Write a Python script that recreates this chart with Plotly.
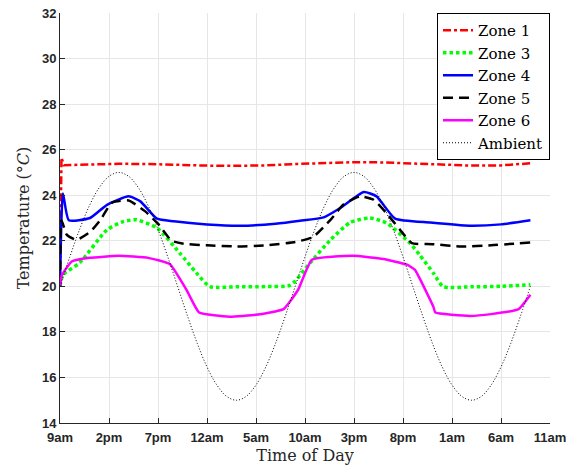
import plotly.graph_objects as go

# hours since 9am
tick_vals = [0, 5, 10, 15, 20, 25, 30, 35, 40, 45, 50]
tick_text = ["9am", "2pm", "7pm", "12am", "5am", "10am", "3pm", "8pm", "1am", "6am", "11am"]

z1_t = [0, 0.15, 0.4, 3, 6, 9, 12, 15, 18, 21, 24, 27, 30, 33, 36, 39, 42, 45, 48]
z1_v = [20, 25.65, 25.32, 25.36, 25.38, 25.37, 25.33, 25.3, 25.29, 25.31, 25.37, 25.42, 25.45, 25.44, 25.4, 25.33, 25.3, 25.31, 25.4]

z3_t = [0, 0.3, 2, 4.8, 6.5, 7.8, 9.9, 12.2, 13.9, 15.3, 18, 21, 23.5, 25.5, 27.6, 29.6, 31.6, 33.3, 35.7, 36.7, 38.1, 39.1, 42, 45, 48]
z3_v = [20, 20.5, 21.03, 22.48, 22.85, 22.92, 22.56, 21.47, 20.6, 19.99, 19.98, 19.99, 20.05, 21.02, 22.04, 22.8, 23.0, 22.78, 21.9, 21.38, 20.58, 19.99, 19.98, 20.0, 20.07]

z4_t = [0, 0.3, 0.9, 3.06, 4.8, 7.0, 8.2, 9.9, 11.6, 15, 18.4, 22, 24.5, 26.9, 28.6, 31.0, 32.3, 34.2, 37.8, 41.8, 45, 48]
z4_v = [20, 24.08, 22.9, 23.0, 23.58, 23.95, 23.73, 22.97, 22.86, 22.72, 22.66, 22.75, 22.88, 23.03, 23.44, 24.14, 23.95, 22.97, 22.8, 22.66, 22.72, 22.9]

z5_t = [0, 0.15, 0.7, 1.7, 3.1, 4.1, 5.3, 7.0, 8.7, 10.0, 11.4, 12.6, 15, 18, 21, 24, 25.8, 27.6, 28.9, 30.6, 32.0, 33.3, 34.7, 35.9, 38, 41, 44, 48]
z5_v = [20, 22.9, 22.26, 22.04, 22.4, 22.9, 23.67, 23.77, 23.29, 22.75, 22.0, 21.87, 21.8, 21.75, 21.8, 21.95, 22.16, 22.92, 23.58, 23.95, 23.8, 23.22, 22.48, 21.9, 21.85, 21.75, 21.8, 21.93]

z6_t = [0, 0.2, 1.2, 3, 6, 9, 11.2, 12.9, 14.2, 17.3, 20, 22.8, 24.3, 25.7, 29.9, 33, 35.4, 36.2, 38.1, 38.3, 41.8, 44, 46.8, 48]
z6_v = [20, 20.5, 21.09, 21.25, 21.34, 21.25, 20.98, 19.85, 18.85, 18.67, 18.75, 19.0, 19.85, 21.17, 21.34, 21.2, 20.95, 20.73, 19.1, 18.85, 18.7, 18.78, 19.0, 19.63]

amb_t = list(range(0, 49))
amb_v = [20.0, 21.29, 22.5, 23.54, 24.33, 24.83, 25.0, 24.83, 24.33, 23.54, 22.5, 21.29,
         20.0, 18.71, 17.5, 16.46, 15.67, 15.17, 15.0, 15.17, 15.67, 16.46, 17.5, 18.71,
         20.0, 21.29, 22.5, 23.54, 24.33, 24.83, 25.0, 24.83, 24.33, 23.54, 22.5, 21.29,
         20.0, 18.71, 17.5, 16.46, 15.67, 15.17, 15.0, 15.17, 15.67, 16.46, 17.5, 18.71, 20.0]

fig = go.Figure()
fig.add_trace(go.Scatter(x=z1_t, y=z1_v, mode="lines", name="Zone 1",
                         line=dict(color="#ff0000", width=2.5, dash="8px,3px,3px,3px")))
fig.add_trace(go.Scatter(x=z3_t, y=z3_v, mode="lines", name="Zone 3",
                         line=dict(color="#00ff00", width=3.5, dash="3.5px,3px", shape="spline", smoothing=0.6)))
fig.add_trace(go.Scatter(x=z4_t, y=z4_v, mode="lines", name="Zone 4",
                         line=dict(color="#0000ff", width=2.5, shape="spline", smoothing=0.5)))
fig.add_trace(go.Scatter(x=z5_t, y=z5_v, mode="lines", name="Zone 5",
                         line=dict(color="#000000", width=2.5, dash="10px,6px", shape="spline", smoothing=0.5)))
fig.add_trace(go.Scatter(x=z6_t, y=z6_v, mode="lines", name="Zone 6",
                         line=dict(color="#ff00ff", width=2.5, shape="spline", smoothing=0.4)))
fig.add_trace(go.Scatter(x=amb_t, y=amb_v, mode="lines", name="Ambient",
                         line=dict(color="#000000", width=1, dash="1px,2px", shape="spline")))

tickfont = dict(family="Liberation Sans", size=13, color="#262626", weight="bold")
fig.update_layout(
    width=568, height=468,
    margin=dict(l=60, r=18, t=13, b=45),
    plot_bgcolor="white", paper_bgcolor="white",
    showlegend=True,
    legend=dict(x=1, y=1, xanchor="right", yanchor="top", bgcolor="white",
                bordercolor="#000000", borderwidth=1,
                font=dict(family="DejaVu Serif", size=15, color="#000000"),
                tracegroupgap=0, itemwidth=30),
    xaxis=dict(range=[0, 50], tickmode="array", tickvals=tick_vals, ticktext=tick_text,
               automargin=False,
               showgrid=True, gridcolor="#e6e6e6", gridwidth=1, zeroline=False,
               showline=True, linecolor="#262626", linewidth=1,
               ticks="inside", ticklen=5, tickcolor="#262626", tickfont=tickfont,
               ticklabelstandoff=2,
               title=dict(text="Time of Day", font=dict(family="DejaVu Serif", size=16, color="#262626"), standoff=6)),
    yaxis=dict(range=[14, 32], tickmode="array", tickvals=[14, 16, 18, 20, 22, 24, 26, 28, 30, 32],
               automargin=False,
               showgrid=True, gridcolor="#e6e6e6", gridwidth=1, zeroline=False,
               showline=True, linecolor="#262626", linewidth=1,
               ticks="inside", ticklen=5, tickcolor="#262626", tickfont=tickfont,
               title=dict(text="Temperature (°<i>C</i>)", font=dict(family="DejaVu Serif", size=16, color="#262626"), standoff=8)),
)

fig.write_html("out.html")
